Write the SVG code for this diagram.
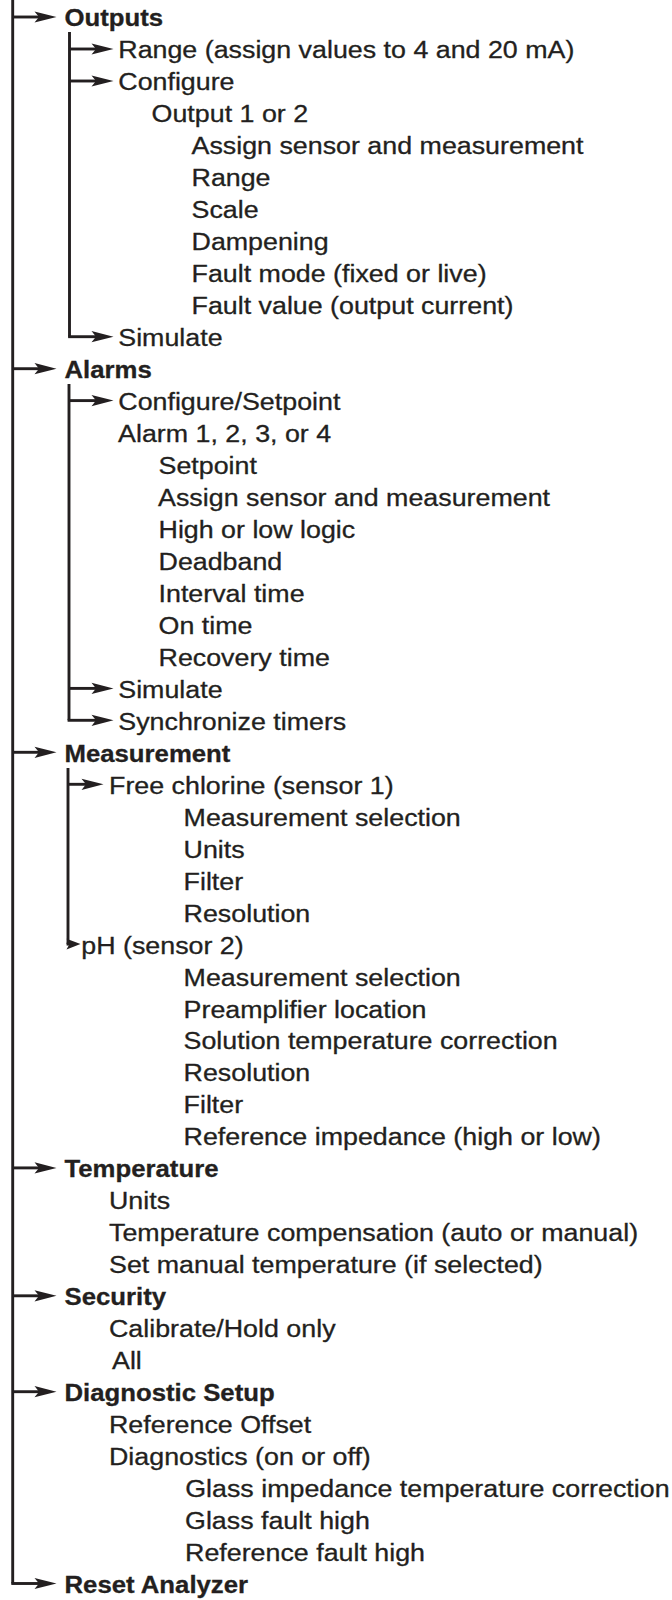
<svg xmlns="http://www.w3.org/2000/svg" width="672" height="1600" viewBox="0 0 672 1600">
<style>
.t{font-family:"Liberation Sans",Arial,Helvetica,sans-serif;font-size:24px;fill:#231f20;stroke:#231f20;stroke-width:0.3}
.b{font-weight:bold}
.c line{stroke:#231f20;stroke-width:2.9;fill:none}
.ah{fill:#231f20}
</style>
<defs>
<path id="ah" class="ah" d="M0,0 L-22,-5.6 L-17.5,0 L-22,5.6 Z"/>
<path id="ahs" class="ah" d="M0,0 L-14,-5.3 L-11,0 L-14,5.3 Z"/>
</defs>
<rect width="672" height="1600" fill="#ffffff"/>
<g id="connectors" class="c">
<line x1="12.7" y1="0" x2="12.7" y2="1583.5"/>
<line x1="11.3" y1="1583.5" x2="42" y2="1583.5"/>
<line x1="12.7" y1="17" x2="42" y2="17"/>
<line x1="12.7" y1="368.7" x2="42" y2="368.7"/>
<line x1="12.7" y1="752.3" x2="42" y2="752.3"/>
<line x1="12.7" y1="1167.9" x2="42" y2="1167.9"/>
<line x1="12.7" y1="1295.8" x2="42" y2="1295.8"/>
<line x1="12.7" y1="1391.7" x2="42" y2="1391.7"/>
<use href="#ah" x="56.5" y="17"/>
<use href="#ah" x="56.5" y="368.7"/>
<use href="#ah" x="56.5" y="752.3"/>
<use href="#ah" x="56.5" y="1167.9"/>
<use href="#ah" x="56.5" y="1295.8"/>
<use href="#ah" x="56.5" y="1391.7"/>
<use href="#ah" x="56.5" y="1583.5"/>
<line x1="69.5" y1="32" x2="69.5" y2="336.7"/>
<line x1="68.1" y1="336.7" x2="99" y2="336.7"/>
<line x1="69.5" y1="49" x2="99" y2="49"/>
<line x1="69.5" y1="81" x2="99" y2="81"/>
<use href="#ah" x="113.5" y="49"/>
<use href="#ah" x="113.5" y="81"/>
<use href="#ah" x="113.5" y="336.7"/>
<line x1="69" y1="384" x2="69" y2="720.3"/>
<line x1="67.6" y1="720.3" x2="99" y2="720.3"/>
<line x1="69" y1="400.6" x2="99" y2="400.6"/>
<line x1="69" y1="688.4" x2="99" y2="688.4"/>
<use href="#ah" x="113.5" y="400.6"/>
<use href="#ah" x="113.5" y="688.4"/>
<use href="#ah" x="113.5" y="720.3"/>
<line x1="68" y1="768" x2="68" y2="944.1"/>
<line x1="66.6" y1="944.1" x2="72" y2="944.1"/>
<line x1="68" y1="784.3" x2="89" y2="784.3"/>
<use href="#ah" x="103.5" y="784.3"/>
<use href="#ahs" x="80.5" y="944.1"/>
</g>
<g id="nodes">
<g transform="scale(1.073,1)">
<g id="outputs"><text class="t b" x="60.1" y="26.5">Outputs</text></g>
<g id="alarms"><text class="t b" x="60.1" y="378.2">Alarms</text></g>
<g id="measurement"><text class="t b" x="60.1" y="761.8">Measurement</text></g>
<g id="temperature"><text class="t b" x="60.1" y="1177.4">Temperature</text></g>
<g id="security"><text class="t b" x="60.1" y="1305.3">Security</text></g>
<g id="diagnostic"><text class="t b" x="60.1" y="1401.2">Diagnostic Setup</text></g>
<g id="reset"><text class="t b" x="60.1" y="1593">Reset Analyzer</text></g>
</g>
<g transform="scale(1.118,1)">
<g id="out-range"><text class="t" x="105.8" y="58.5">Range (assign values to 4 and 20 mA)</text></g>
<g id="out-configure"><text class="t" x="105.8" y="90.4">Configure</text></g>
<g id="out-output12"><text class="t" x="135.6" y="122.4">Output 1 or 2</text></g>
<g id="out-assign"><text class="t" x="171.3" y="154.4">Assign sensor and measurement</text></g>
<g id="out-range2"><text class="t" x="171.3" y="186.4">Range</text></g>
<g id="out-scale"><text class="t" x="171.3" y="218.3">Scale</text></g>
<g id="out-damp"><text class="t" x="171.3" y="250.3">Dampening</text></g>
<g id="out-faultmode"><text class="t" x="171.3" y="282.3">Fault mode (fixed or live)</text></g>
<g id="out-faultvalue"><text class="t" x="171.3" y="314.2">Fault value (output current)</text></g>
<g id="out-simulate"><text class="t" x="105.8" y="346.2">Simulate</text></g>
<g id="al-config"><text class="t" x="105.8" y="410.1">Configure/Setpoint</text></g>
<g id="al-alarm"><text class="t" x="105.6" y="442.1">Alarm 1, 2, 3, or 4</text></g>
<g id="al-setpoint"><text class="t" x="141.8" y="474.1">Setpoint</text></g>
<g id="al-assign"><text class="t" x="141.4" y="506.1">Assign sensor and measurement</text></g>
<g id="al-logic"><text class="t" x="141.8" y="538">High or low logic</text></g>
<g id="al-deadband"><text class="t" x="141.8" y="570">Deadband</text></g>
<g id="al-interval"><text class="t" x="141.8" y="602">Interval time</text></g>
<g id="al-ontime"><text class="t" x="141.8" y="633.9">On time</text></g>
<g id="al-recovery"><text class="t" x="141.8" y="665.9">Recovery time</text></g>
<g id="al-simulate"><text class="t" x="105.8" y="697.9">Simulate</text></g>
<g id="al-sync"><text class="t" x="105.8" y="729.8">Synchronize timers</text></g>
<g id="me-chlorine"><text class="t" x="97.5" y="793.8">Free chlorine (sensor 1)</text></g>
<g id="me-cl-sel"><text class="t" x="164.2" y="825.8">Measurement selection</text></g>
<g id="me-cl-units"><text class="t" x="164.2" y="857.7">Units</text></g>
<g id="me-cl-filter"><text class="t" x="164.2" y="889.7">Filter</text></g>
<g id="me-cl-res"><text class="t" x="164.2" y="921.7">Resolution</text></g>
<g id="me-ph"><text class="t" x="72.7" y="953.6">pH (sensor 2)</text></g>
<g id="me-ph-sel"><text class="t" x="164.2" y="985.6">Measurement selection</text></g>
<g id="me-ph-preamp"><text class="t" x="164.2" y="1017.6">Preamplifier location</text></g>
<g id="me-ph-sol"><text class="t" x="164.2" y="1049.5">Solution temperature correction</text></g>
<g id="me-ph-res"><text class="t" x="164.2" y="1081.5">Resolution</text></g>
<g id="me-ph-filter"><text class="t" x="164.2" y="1113.5">Filter</text></g>
<g id="me-ph-ref"><text class="t" x="164.2" y="1145.5">Reference impedance (high or low)</text></g>
<g id="te-units"><text class="t" x="97.5" y="1209.4">Units</text></g>
<g id="te-comp"><text class="t" x="97.5" y="1241.4">Temperature compensation (auto or manual)</text></g>
<g id="te-manual"><text class="t" x="97.5" y="1273.3">Set manual temperature (if selected)</text></g>
<g id="se-cal"><text class="t" x="97.5" y="1337.3">Calibrate/Hold only</text></g>
<g id="se-all"><text class="t" x="100.2" y="1369.2">All</text></g>
<g id="di-refoff"><text class="t" x="97.5" y="1433.2">Reference Offset</text></g>
<g id="di-diag"><text class="t" x="97.5" y="1465.2">Diagnostics (on or off)</text></g>
<g id="di-glassimp"><text class="t" x="165.7" y="1497.1">Glass impedance temperature correction</text></g>
<g id="di-glassfault"><text class="t" x="165.5" y="1529.1">Glass fault high</text></g>
<g id="di-reffault"><text class="t" x="165.5" y="1561.1">Reference fault high</text></g>
</g>
</g>
</svg>
